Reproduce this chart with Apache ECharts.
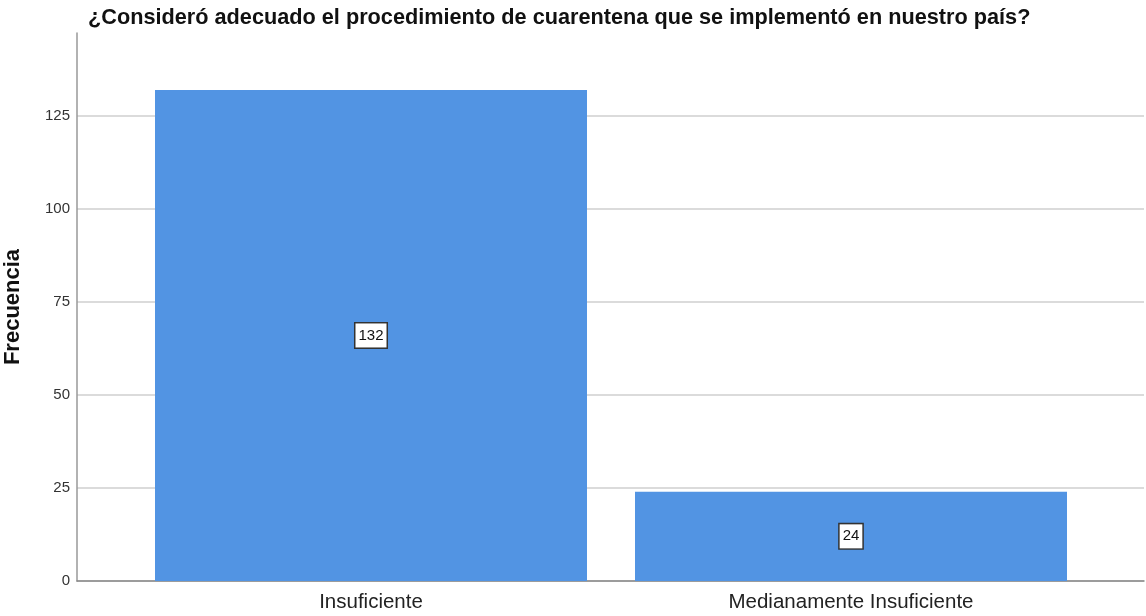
<!DOCTYPE html>
<html>
<head>
<meta charset="utf-8">
<script src="https://cdn.jsdelivr.net/npm/echarts@6/dist/echarts.min.js"></script>
<style>
  html, body { margin: 0; padding: 0; background: #fff; }
  #div_chart { width: 1146px; height: 616px; }
</style>
</head>
<body>
<div id="div_chart"></div>
<script>
"use strict";

// data
const categories = ["Insuficiente", "Medianamente Insuficiente"];
const frecuencia = [132, 24];
const title_text = "¿Consideró adecuado el procedimiento de cuarentena que se implementó en nuestro país?";

const y_max = 147.3;
const font = "Liberation Sans, Arial, sans-serif";
const grid_col = "#cfcfcf";

const chart = echarts.init(document.getElementById("div_chart"));
chart.setOption({
  animation: false,
  title: {
    text: title_text,
    left: 83,
    top: 2,
    textStyle: { fontFamily: font, fontSize: 21.7, fontWeight: "bold", color: "#111" },
  },
  grid: [
    // frame with y axis + gridlines
    { left: 77, right: 2, top: 33, bottom: 35, containLabel: false, outerBoundsMode: "none" },
    // bars, inset like SPSS does
    { left: 131, right: 55, top: 33, bottom: 35, containLabel: false, outerBoundsMode: "none" },
  ],
  xAxis: [
    {
      gridIndex: 0, type: "value", min: 0, max: 1,
      axisLine: { show: true, lineStyle: { color: "#888", width: 1.5 } },
      axisTick: { show: false }, axisLabel: { show: false }, splitLine: { show: false },
    },
    {
      gridIndex: 1, type: "category", data: categories,
      axisLine: { show: false }, axisTick: { show: false },
      axisLabel: { fontFamily: font, fontSize: 20.5, color: "#222", margin: 11 },
    },
  ],
  yAxis: [
    {
      gridIndex: 0, type: "value", min: 0, max: y_max, interval: 25,
      name: "Frecuencia", nameLocation: "middle", nameGap: 53,
      nameTextStyle: { fontFamily: font, fontSize: 22, fontWeight: "bold", color: "#111" },
      axisLine: { show: true, lineStyle: { color: "#999", width: 1.5 } },
      axisTick: { show: false },
      axisLabel: {
        fontFamily: font, fontSize: 15, color: "#333", margin: 7,
        formatter: function (v) { return v % 25 === 0 ? v : ""; },
      },
      splitLine: {
        show: true,
        // no line at the (non round) top of the axis
        lineStyle: { color: [grid_col, grid_col, grid_col, grid_col, grid_col, grid_col, "rgba(0,0,0,0)"], width: 1.5 },
      },
    },
    {
      gridIndex: 1, type: "value", min: 0, max: y_max,
      show: false, splitLine: { show: false },
    },
  ],
  series: [
    {
      type: "bar",
      name: "Frecuencia",
      xAxisIndex: 1,
      yAxisIndex: 1,
      data: frecuencia,
      barWidth: 432,
      itemStyle: { color: "#5294e3" },
      label: {
        show: true,
        position: "inside",
        fontFamily: font,
        fontSize: 15,
        color: "#111",
        backgroundColor: "#fff",
        borderColor: "#333",
        borderWidth: 1.5,
        padding: [5, 3, 4, 3],
      },
    },
  ],
});
</script>
</body>
</html>
